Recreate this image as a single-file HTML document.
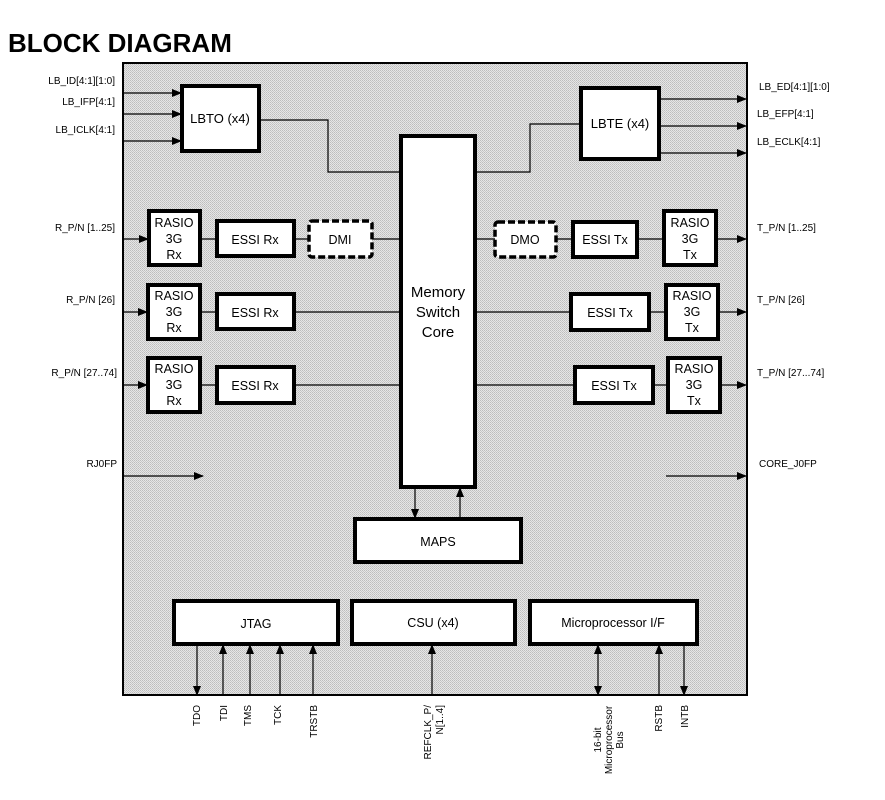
<!DOCTYPE html>
<html><head><meta charset="utf-8"><style>
html,body{margin:0;padding:0;background:#fff;}
svg{display:block;font-family:"Liberation Sans",Arial,sans-serif;}
</style></head><body>
<svg width="885" height="800" viewBox="0 0 885 800" xmlns="http://www.w3.org/2000/svg">
<defs>
<pattern id="dots" width="2" height="2" patternUnits="userSpaceOnUse">
<rect width="2" height="2" fill="#e6e6e6"/><rect width="1" height="1" fill="#bdbdbd"/><rect x="1" y="1" width="1" height="1" fill="#c8c8c8"/>
</pattern>
<marker id="ar" markerWidth="10" markerHeight="8" refX="9" refY="4" orient="auto" markerUnits="userSpaceOnUse">
<path d="M0,0 L10,4 L0,8 z" fill="#000"/></marker>
</defs>
<text x="8" y="52" font-size="26" font-weight="bold">BLOCK DIAGRAM</text>
<rect x="123" y="63" width="624" height="632" fill="url(#dots)" stroke="#000" stroke-width="2"/>

<g stroke="#000" stroke-width="1.2" fill="none">
<!-- LBTO inputs -->
<line x1="123" y1="93" x2="181" y2="93" marker-end="url(#ar)"/>
<line x1="123" y1="114" x2="181" y2="114" marker-end="url(#ar)"/>
<line x1="123" y1="141" x2="181" y2="141" marker-end="url(#ar)"/>
<polyline points="260,120 328,120 328,172 400,172"/>
<polyline points="476,172 530,172 530,124 580,124"/>
<line x1="660" y1="99" x2="746" y2="99" marker-end="url(#ar)"/>
<line x1="660" y1="126" x2="746" y2="126" marker-end="url(#ar)"/>
<line x1="660" y1="153" x2="746" y2="153" marker-end="url(#ar)"/>
<!-- rows -->
<line x1="123" y1="239" x2="148" y2="239" marker-end="url(#ar)"/>
<line x1="200" y1="239" x2="400" y2="239"/>
<line x1="476" y1="239" x2="663" y2="239"/>
<line x1="717" y1="239" x2="746" y2="239" marker-end="url(#ar)"/>
<line x1="123" y1="312" x2="147" y2="312" marker-end="url(#ar)"/>
<line x1="200" y1="312" x2="400" y2="312"/>
<line x1="476" y1="312" x2="665" y2="312"/>
<line x1="719" y1="312" x2="746" y2="312" marker-end="url(#ar)"/>
<line x1="123" y1="385" x2="147" y2="385" marker-end="url(#ar)"/>
<line x1="200" y1="385" x2="400" y2="385"/>
<line x1="476" y1="385" x2="667" y2="385"/>
<line x1="720" y1="385" x2="746" y2="385" marker-end="url(#ar)"/>
<line x1="123" y1="476" x2="203" y2="476" marker-end="url(#ar)"/>
<line x1="666" y1="476" x2="746" y2="476" marker-end="url(#ar)"/>
<!-- core-maps -->
<line x1="415" y1="488" x2="415" y2="518" marker-end="url(#ar)"/>
<line x1="460" y1="518" x2="460" y2="488" marker-end="url(#ar)"/>
<!-- bottom pins -->
<line x1="197" y1="645" x2="197" y2="695" marker-end="url(#ar)"/>
<line x1="223" y1="695" x2="223" y2="645" marker-end="url(#ar)"/>
<line x1="250" y1="695" x2="250" y2="645" marker-end="url(#ar)"/>
<line x1="280" y1="695" x2="280" y2="645" marker-end="url(#ar)"/>
<line x1="313" y1="695" x2="313" y2="645" marker-end="url(#ar)"/>
<line x1="432" y1="695" x2="432" y2="645" marker-end="url(#ar)"/>
<line x1="598" y1="670" x2="598" y2="645" marker-end="url(#ar)"/>
<line x1="598" y1="670" x2="598" y2="695" marker-end="url(#ar)"/>
<line x1="659" y1="695" x2="659" y2="645" marker-end="url(#ar)"/>
<line x1="684" y1="645" x2="684" y2="695" marker-end="url(#ar)"/>
</g>

<g fill="#fff" stroke="#000" stroke-width="4">
<rect x="182" y="86" width="77" height="65"/>
<rect x="581" y="88" width="78" height="71"/>
<rect x="401" y="136" width="74" height="351"/>
<rect x="149" y="211" width="51" height="54"/>
<rect x="217" y="221" width="77" height="35"/>
<rect x="573" y="222" width="64" height="35"/>
<rect x="664" y="211" width="52" height="54"/>
<rect x="148" y="285" width="52" height="54"/>
<rect x="217" y="294" width="77" height="35"/>
<rect x="571" y="294" width="78" height="36"/>
<rect x="666" y="285" width="52" height="54"/>
<rect x="148" y="358" width="52" height="54"/>
<rect x="217" y="367" width="77" height="36"/>
<rect x="575" y="367" width="78" height="36"/>
<rect x="668" y="358" width="52" height="54"/>
<rect x="355" y="519" width="166" height="43"/>
<rect x="174" y="601" width="164" height="43"/>
<rect x="352" y="601" width="163" height="43"/>
<rect x="530" y="601" width="167" height="43"/>
</g>
<g fill="#fff" stroke="#000" stroke-width="3.5" stroke-dasharray="7,3">
<rect x="309" y="221" width="63" height="36" rx="3"/>
<rect x="495" y="222" width="61" height="35" rx="3"/>
</g>

<g font-size="13" text-anchor="middle" fill="#000">
<text x="220" y="123">LBTO (x4)</text>
<text x="620" y="128">LBTE (x4)</text>
<text x="438" y="297" font-size="15">Memory</text>
<text x="438" y="317" font-size="15">Switch</text>
<text x="438" y="337" font-size="15">Core</text>
<g font-size="12.5">
<text x="174" y="227">RASIO</text><text x="174" y="243">3G</text><text x="174" y="259">Rx</text>
<text x="174" y="300">RASIO</text><text x="174" y="316">3G</text><text x="174" y="332">Rx</text>
<text x="174" y="373">RASIO</text><text x="174" y="389">3G</text><text x="174" y="405">Rx</text>
<text x="690" y="227">RASIO</text><text x="690" y="243">3G</text><text x="690" y="259">Tx</text>
<text x="692" y="300">RASIO</text><text x="692" y="316">3G</text><text x="692" y="332">Tx</text>
<text x="694" y="373">RASIO</text><text x="694" y="389">3G</text><text x="694" y="405">Tx</text>
<text x="255" y="244">ESSI Rx</text><text x="255" y="317">ESSI Rx</text><text x="255" y="390">ESSI Rx</text>
<text x="605" y="244">ESSI Tx</text><text x="610" y="317">ESSI Tx</text><text x="614" y="390">ESSI Tx</text>
<text x="340" y="244">DMI</text><text x="525" y="244">DMO</text>
<text x="438" y="546">MAPS</text>
<text x="256" y="628">JTAG</text>
<text x="433" y="627">CSU (x4)</text>
<text x="613" y="627">Microprocessor I/F</text>
</g>
</g>

<g font-size="10" fill="#000">
<g text-anchor="end">
<text x="115" y="84">LB_ID[4:1][1:0]</text>
<text x="115" y="105">LB_IFP[4:1]</text>
<text x="115" y="133">LB_ICLK[4:1]</text>
<text x="115" y="231">R_P/N [1..25]</text>
<text x="115" y="303">R_P/N [26]</text>
<text x="117" y="376">R_P/N [27..74]</text>
<text x="117" y="467">RJ0FP</text>
</g>
<text x="759" y="90">LB_ED[4:1][1:0]</text>
<text x="757" y="117">LB_EFP[4:1]</text>
<text x="757" y="145">LB_ECLK[4:1]</text>
<text x="757" y="231">T_P/N [1..25]</text>
<text x="757" y="303">T_P/N [26]</text>
<text x="757" y="376">T_P/N [27...74]</text>
<text x="759" y="467">CORE_J0FP</text>
<g text-anchor="end">
<text transform="translate(200,705) rotate(-90)">TDO</text>
<text transform="translate(227,705) rotate(-90)">TDI</text>
<text transform="translate(251,705) rotate(-90)">TMS</text>
<text transform="translate(281,705) rotate(-90)">TCK</text>
<text transform="translate(317,705) rotate(-90)">TRSTB</text>
<text transform="translate(431,705) rotate(-90)">REFCLK_P/</text>
<text transform="translate(443,705) rotate(-90)">N[1..4]</text>
<text transform="translate(662,705) rotate(-90)">RSTB</text>
<text transform="translate(688,705) rotate(-90)">INTB</text>
</g>
<g text-anchor="middle">
<text transform="translate(601,740) rotate(-90)">16-bit</text>
<text transform="translate(612,740) rotate(-90)">Microprocessor</text>
<text transform="translate(623,740) rotate(-90)">Bus</text>
</g>
</g>
</svg>
</body></html>
